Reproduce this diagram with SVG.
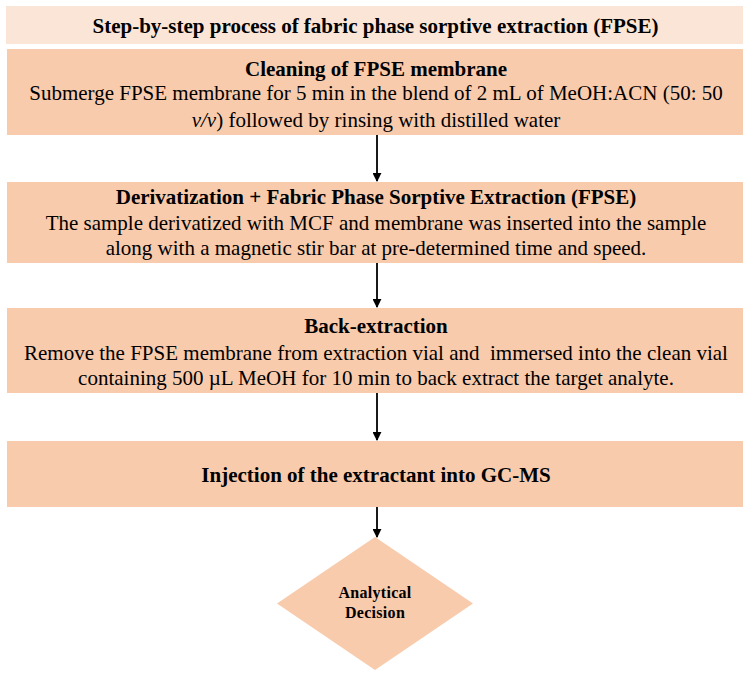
<svg xmlns="http://www.w3.org/2000/svg" width="752" height="675" viewBox="0 0 752 675">
  <defs>
    <marker id="arrow" viewBox="0 0 10 10" refX="9" refY="5" markerWidth="9" markerHeight="9" markerUnits="userSpaceOnUse" orient="auto">
      <path d="M0,0 L10,5 L0,10 z" fill="#000"/>
    </marker>
    <style>
      .title { fill: #FBE5D6; }
      .box { fill: #F8CBAD; }
      text { font-family: "Liberation Serif", "Times New Roman", serif; fill: #000; text-anchor: middle; }
      .h { font-weight: bold; font-size: 21px; }
      .b { font-size: 21px; }
      .d { font-weight: bold; font-size: 16px; letter-spacing: 0.3px; }
      .conn line { stroke: #000; stroke-width: 1.8; marker-end: url(#arrow); }
    </style>
  </defs>
  <rect width="752" height="675" fill="#fff"/>

  <g id="title">
    <rect class="title" x="6" y="6" width="737" height="38"/>
    <text class="h" x="375.5" y="33">Step-by-step process of fabric phase sorptive extraction (FPSE)</text>
  </g>

  <g id="cleaning">
    <rect class="box" x="7" y="49" width="736" height="86"/>
    <text class="h" x="376" y="76">Cleaning of FPSE membrane</text>
    <text class="b" x="376" y="100">Submerge FPSE membrane for 5 min in the blend of 2 mL of MeOH:ACN (50: 50</text>
    <text class="b" x="376" y="127"><tspan font-style="italic">v/v</tspan>) followed by rinsing with distilled water</text>
  </g>

  <g id="derivatization">
    <rect class="box" x="7" y="182" width="736" height="81"/>
    <text class="h" x="376" y="204">Derivatization + Fabric Phase Sorptive Extraction (FPSE)</text>
    <text class="b" x="376" y="230">The sample derivatized with MCF and membrane was inserted into the sample</text>
    <text class="b" x="376" y="255">along with a magnetic stir bar at pre-determined time and speed.</text>
  </g>

  <g id="back-extraction">
    <rect class="box" x="7" y="308" width="736" height="85"/>
    <text class="h" x="376" y="333">Back-extraction</text>
    <text class="b" x="376" y="360" xml:space="preserve">Remove the FPSE membrane from extraction vial and  immersed into the clean vial</text>
    <text class="b" x="376" y="385">containing 500 µL MeOH for 10 min to back extract the target analyte.</text>
  </g>

  <g id="injection">
    <rect class="box" x="7" y="441" width="736" height="66"/>
    <text class="h" x="376" y="482">Injection of the extractant into GC-MS</text>
  </g>

  <g id="decision">
    <polygon class="box" points="375,537 473,603.5 375,670 277,603.5"/>
    <text class="d" x="375" y="598">Analytical</text>
    <text class="d" x="375" y="618">Decision</text>
  </g>

  <g id="connectors" class="conn">
    <line x1="377" y1="135" x2="377" y2="181"/>
    <line x1="377" y1="263" x2="377" y2="307"/>
    <line x1="377" y1="393" x2="377" y2="440"/>
    <line x1="377" y1="507" x2="377" y2="537"/>
  </g>
</svg>
